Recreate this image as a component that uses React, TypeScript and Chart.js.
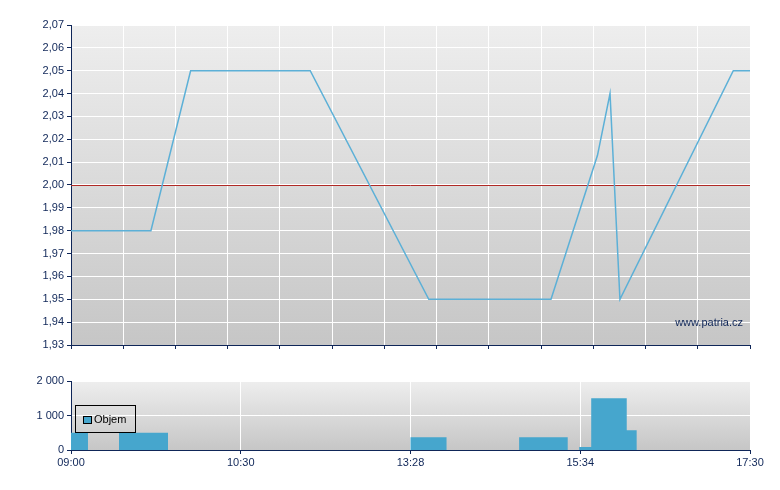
import React, { useEffect, useRef } from "react";
import { Chart, registerables } from "chart.js";
Chart.register(...registerables);

// ---- data ----
const priceX = [0, 1.53, 2.29, 4.58, 6.85, 9.19, 10.08, 10.32, 10.51, 12.68, 13];
const priceY = [1.98, 1.98, 2.05, 2.05, 1.95, 1.95, 2.013, 2.04, 1.95, 2.05, 2.05];
const refPrice = 2.0;
const priceTicks = [1.93, 1.94, 1.95, 1.96, 1.97, 1.98, 1.99, 2.0, 2.01, 2.02, 2.03, 2.04, 2.05, 2.06, 2.07];
const gridX = [0, 1, 2, 3, 4, 5, 6, 7, 8, 9, 10, 11, 12, 13];

const volLabel = "Objem";
const volStart = [0, 0.919, 6.5, 8.58, 9.73, 9.96, 10.64];
const volEnd = [0.325, 1.857, 7.19, 9.51, 9.96, 10.64, 10.83];
const volValue = [500, 500, 370, 370, 90, 1500, 570];
const volTicks = [0, 1000, 2000];
const timeTickPos = [0, 3.25, 6.5, 9.75, 13];
const timeLabels = ["09:00", "10:30", "13:28", "15:34", "17:30"];
const watermark = "www.patria.cz";

// ---- styles ----
const NAVY = "#0f2658";
const FONT = { family: "'Liberation Sans', Arial, sans-serif", size: 11 };
const LINE_COLOR = "#5cb0d7";
const REF_COLOR = "#b02a26";
const BAR_COLOR = "#46a6cd";

const bgPlugin = {
  id: "bgGrad",
  beforeDraw(chart: any) {
    const { ctx, chartArea: a } = chart;
    const g = ctx.createLinearGradient(0, a.top, 0, a.bottom);
    g.addColorStop(0, "#eeeeee");
    g.addColorStop(1, "#c6c6c6");
    ctx.save();
    ctx.fillStyle = g;
    ctx.fillRect(a.left, a.top, a.right - a.left, a.bottom - a.top);
    ctx.restore();
  },
};

const refLinePlugin = {
  id: "refLine",
  beforeDatasetsDraw(chart: any) {
    const { ctx, chartArea: a, scales } = chart;
    const y = Math.round(scales.y.getPixelForValue(refPrice)) + 0.5;
    ctx.save();
    ctx.strokeStyle = REF_COLOR;
    ctx.lineWidth = 1;
    ctx.beginPath();
    ctx.moveTo(a.left, y);
    ctx.lineTo(a.right, y);
    ctx.stroke();
    ctx.restore();
  },
};

const watermarkPlugin = {
  id: "watermark",
  afterDatasetsDraw(chart: any) {
    const { ctx, chartArea: a } = chart;
    ctx.save();
    ctx.font = `11px ${FONT.family}`;
    ctx.fillStyle = NAVY;
    ctx.textAlign = "right";
    ctx.textBaseline = "middle";
    ctx.fillText(watermark, a.right - 7, a.bottom - 22);
    ctx.restore();
  },
};

const legendPlugin = {
  id: "boxLegend",
  afterDatasetsDraw(chart: any) {
    const { ctx, chartArea: a } = chart;
    const ds = chart.data.datasets[0];
    ctx.save();
    ctx.strokeStyle = "#000000";
    ctx.lineWidth = 1;
    ctx.strokeRect(Math.round(a.left + 4) + 0.5, Math.round(a.top + 24) + 0.5, 60, 27);
    ctx.fillStyle = ds.backgroundColor;
    ctx.fillRect(Math.round(a.left + 12) + 0.5, Math.round(a.top + 35) + 0.5, 8, 7);
    ctx.strokeRect(Math.round(a.left + 12) + 0.5, Math.round(a.top + 35) + 0.5, 8, 7);
    ctx.font = `11px ${FONT.family}`;
    ctx.fillStyle = "#000000";
    ctx.textAlign = "left";
    ctx.textBaseline = "middle";
    ctx.fillText(ds.label, a.left + 23, a.top + 39);
    ctx.restore();
  },
};

const gridColor = (ctx: any) => (ctx.index === 0 ? "rgba(0,0,0,0)" : "#ffffff");

export default function App() {
  const topRef = useRef<HTMLCanvasElement>(null);
  const botRef = useRef<HTMLCanvasElement>(null);

  useEffect(() => {
    const priceData = priceX.map((x, i) => ({ x, y: priceY[i] }));
    const top = new Chart(topRef.current!, {
      type: "line",
      data: {
        datasets: [
          {
            data: priceData,
            borderColor: LINE_COLOR,
            borderWidth: 1.5,
            pointRadius: 0,
            tension: 0,
            fill: false,
          },
        ],
      },
      options: {
        responsive: false,
        animation: false,
        layout: { padding: { top: 25, right: 30, left: 0, bottom: 0 } },
        plugins: { legend: { display: false }, tooltip: { enabled: false } },
        scales: {
          x: {
            type: "linear",
            min: gridX[0],
            max: gridX[gridX.length - 1],
            afterBuildTicks: (s: any) => {
              s.ticks = gridX.map((v) => ({ value: v }));
            },
            afterFit: (s: any) => {
              s.height = 20;
            },
            ticks: { display: false },
            grid: { color: gridColor, tickColor: NAVY, tickLength: 4, lineWidth: 1 },
            border: { color: NAVY, width: 1 },
          },
          y: {
            type: "linear",
            min: priceTicks[0],
            max: priceTicks[priceTicks.length - 1],
            afterBuildTicks: (s: any) => {
              s.ticks = priceTicks.map((v) => ({ value: v }));
            },
            afterFit: (s: any) => {
              s.width = 71;
            },
            ticks: {
              color: NAVY,
              font: FONT,
              padding: 3,
              callback: (v: any) => Number(v).toFixed(2).replace(".", ","),
            },
            grid: { color: gridColor, tickColor: NAVY, tickLength: 4, lineWidth: 1 },
            border: { color: NAVY, width: 1 },
          },
        },
      } as any,
      plugins: [bgPlugin, refLinePlugin, watermarkPlugin],
    });

    const volData: { x: number; y: number }[] = [];
    for (let i = 0; i < volStart.length; i++) {
      volData.push({ x: volStart[i], y: volValue[i] });
      const next = volStart[i + 1];
      if (next === undefined || next > volEnd[i]) volData.push({ x: volEnd[i], y: 0 });
    }
    volData.push({ x: timeTickPos[timeTickPos.length - 1], y: 0 });

    const bot = new Chart(botRef.current!, {
      type: "line",
      data: {
        datasets: [
          {
            label: volLabel,
            data: volData,
            stepped: "before",
            fill: "origin",
            backgroundColor: BAR_COLOR,
            borderColor: "rgba(0,0,0,0)",
            borderWidth: 0,
            pointRadius: 0,
          },
        ],
      },
      options: {
        responsive: false,
        animation: false,
        layout: { padding: { top: 16, right: 30, left: 0, bottom: 0 } },
        plugins: { legend: { display: false }, tooltip: { enabled: false } },
        scales: {
          x: {
            type: "linear",
            min: timeTickPos[0],
            max: timeTickPos[timeTickPos.length - 1],
            afterBuildTicks: (s: any) => {
              s.ticks = timeTickPos.map((v) => ({ value: v }));
            },
            afterFit: (s: any) => {
              s.height = 40;
            },
            ticks: {
              color: NAVY,
              font: FONT,
              autoSkip: false,
              maxRotation: 0,
              padding: 2,
              callback: (_v: any, i: number) => timeLabels[i],
            },
            grid: { color: gridColor, tickColor: NAVY, tickLength: 4, lineWidth: 1 },
            border: { color: NAVY, width: 1 },
          },
          y: {
            type: "linear",
            min: volTicks[0],
            max: volTicks[volTicks.length - 1],
            afterBuildTicks: (s: any) => {
              s.ticks = volTicks.map((v) => ({ value: v }));
            },
            afterFit: (s: any) => {
              s.width = 71;
            },
            ticks: {
              color: NAVY,
              font: FONT,
              padding: 3,
              callback: (v: any) => String(Math.round(Number(v))).replace(/\B(?=(\d{3})+(?!\d))/g, " "),
            },
            grid: { color: gridColor, tickColor: NAVY, tickLength: 4, lineWidth: 1 },
            border: { color: NAVY, width: 1 },
          },
        },
      } as any,
      plugins: [bgPlugin, legendPlugin],
    });

    return () => {
      top.destroy();
      bot.destroy();
    };
  }, []);

  return (
    <div style={{ position: "fixed", left: 0, top: 0, width: 780, height: 490, background: "#ffffff" }}>
      <canvas
        ref={topRef}
        width={780}
        height={365}
        style={{ position: "absolute", left: 0, top: 0, width: 780, height: 365, display: "block" }}
      />
      <canvas
        ref={botRef}
        width={780}
        height={125}
        style={{ position: "absolute", left: 0, top: 365, width: 780, height: 125, display: "block" }}
      />
    </div>
  );
}
